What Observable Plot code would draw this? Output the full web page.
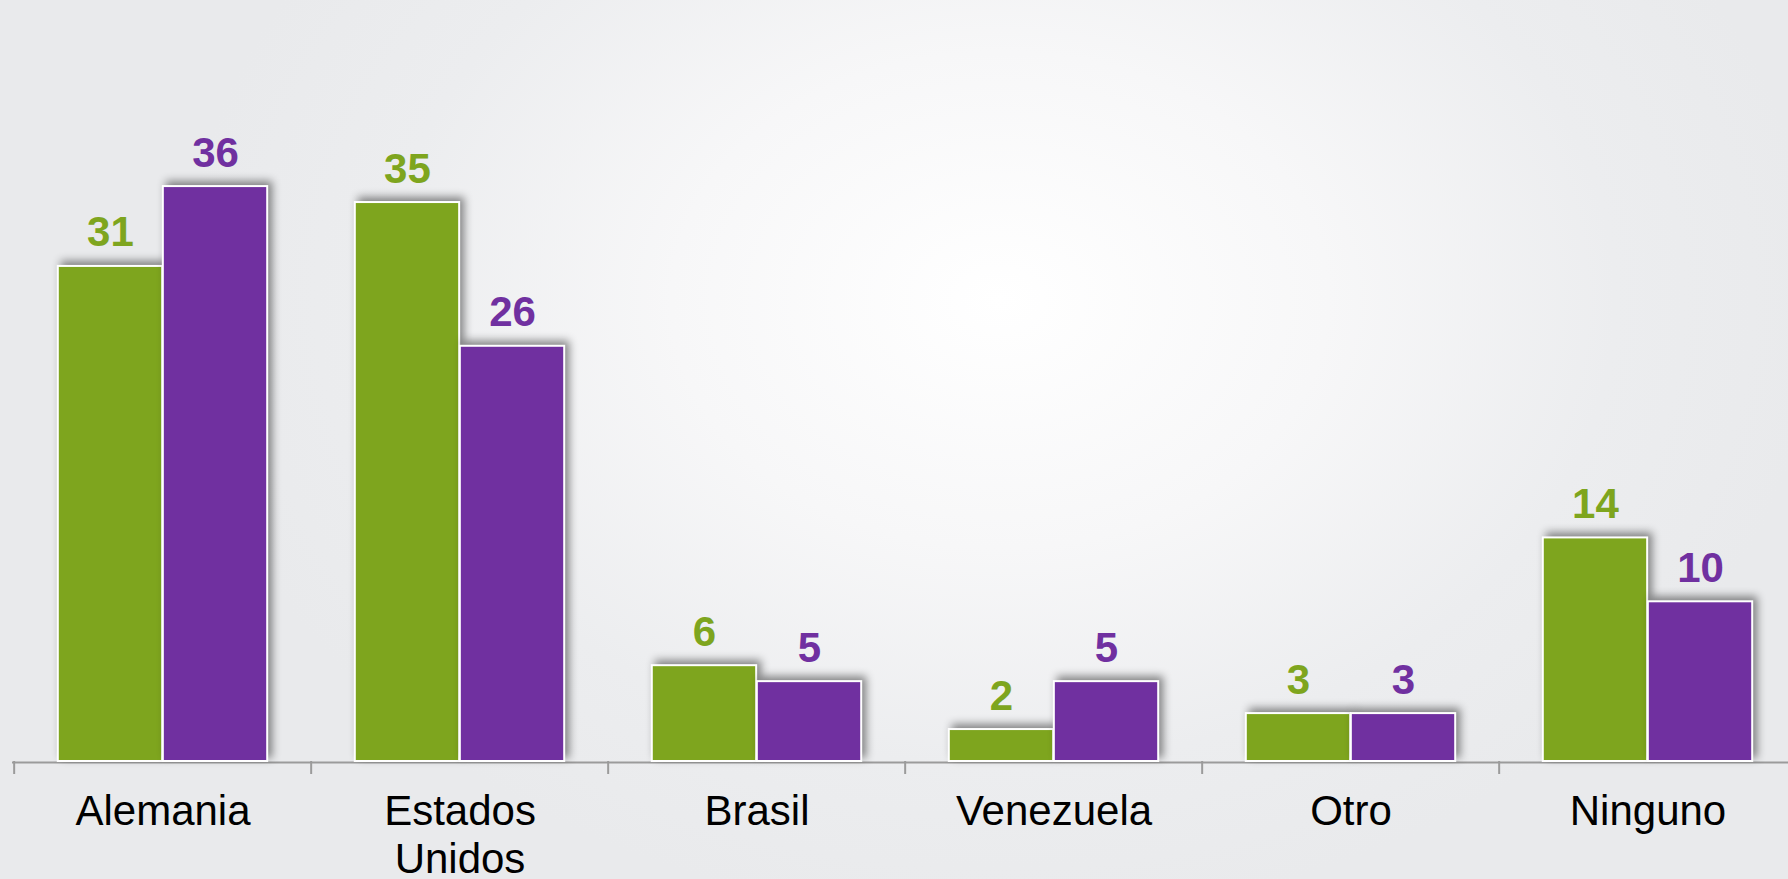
<!DOCTYPE html>
<html>
<head>
<meta charset="utf-8">
<script src="https://cdn.jsdelivr.net/npm/d3@7"></script>
<script src="https://cdn.jsdelivr.net/npm/@observablehq/plot@0.6"></script>
<style>
  html, body { margin: 0; padding: 0; }
  body {
    width: 1788px; height: 879px; overflow: hidden;
    background: radial-gradient(ellipse 820px 620px at 1000px 300px, #ffffff 0%, #f7f7f8 40%, #ecedef 75%, #e9eaec 100%);
    font-family: "Liberation Sans", Arial, sans-serif;
  }
  #chart svg g[aria-label="bar"] { filter: drop-shadow(4px -4px 4px rgba(0,0,0,0.45)); }
</style>
</head>
<body>
<div id="chart"></div>
<script>
const categories = ["Alemania", "Estados Unidos", "Brasil", "Venezuela", "Otro", "Ninguno"];
const tickLabels = ["Alemania", "Estados\nUnidos", "Brasil", "Venezuela", "Otro", "Ninguno"];
const greenValues = [31, 35, 6, 2, 3, 14];
const purpleValues = [36, 26, 5, 5, 3, 10];

const GREEN = "#7ea51e";
const PURPLE = "#7030a0";

const data = categories.map((c, i) => ({cat: c, g: greenValues[i], p: purpleValues[i]}));
const labelOf = new Map(categories.map((c, i) => [c, tickLabels[i]]));

const W = 1788, H = 879;
const x0 = 12, x1 = 1798;
const step = (x1 - x0) / categories.length;
const half = step / 2;
const outer = 43.8;
const baseY = 761;
const unit = 15.97;

const chart = Plot.plot({
  width: W,
  height: H,
  marginLeft: x0,
  marginRight: 0,
  marginTop: 0,
  marginBottom: H - baseY,
  style: {background: "transparent", fontFamily: "Liberation Sans, Arial, sans-serif"},
  x: {domain: categories, range: [x0, x1], padding: 0, axis: null},
  y: {domain: [0, baseY / unit], range: [baseY, 0], axis: null},
  marks: [
    Plot.ruleY([0], {stroke: "#9b9b9b", strokeWidth: 2, dy: 1}),
    Plot.ruleX(categories, {x: d => d, y1: 0, y2: 0, dx: -half, insetBottom: -13, stroke: "#9b9b9b", strokeWidth: 2}),
    Plot.barY(data, {x: "cat", y: "g", fill: GREEN, stroke: "white", strokeWidth: 2, insetLeft: outer, insetRight: half}),
    Plot.barY(data, {x: "cat", y: "p", fill: PURPLE, stroke: "white", strokeWidth: 2, insetLeft: half, insetRight: outer}),
    Plot.text(data, {x: "cat", y: "g", text: d => String(d.g), dx: -(half - outer) / 2, dy: -20, lineAnchor: "bottom", fill: GREEN, fontSize: 42, fontWeight: "bold"}),
    Plot.text(data, {x: "cat", y: "p", text: d => String(d.p), dx: (half - outer) / 2, dy: -20, lineAnchor: "bottom", fill: PURPLE, fontSize: 42, fontWeight: "bold"}),
    Plot.axisX({anchor: "bottom", label: null, tickSize: 0, tickPadding: 29, fontSize: 42, lineHeight: 1.15, fill: "#000", tickFormat: d => labelOf.get(d)})
  ]
});
document.getElementById("chart").appendChild(chart);
</script>
</body>
</html>
